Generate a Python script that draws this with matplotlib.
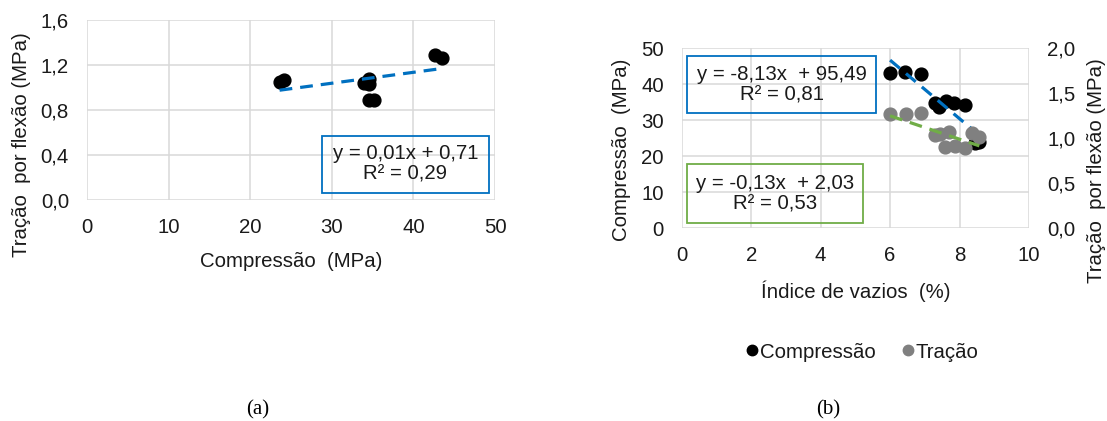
import matplotlib
matplotlib.use("Agg")
import matplotlib.pyplot as plt
from matplotlib.patches import Rectangle
from matplotlib.lines import Line2D
import numpy as np

plt.rcParams['font.family'] = ['Liberation Sans', 'DejaVu Sans']

# (a) tracao x compressao
comp_a = [23.6, 24.2, 33.9, 34.6, 34.6, 34.5, 35.2, 42.7, 43.5]
trac_a = [1.047, 1.065, 1.042, 1.078, 1.027, 0.892, 0.886, 1.287, 1.26]
trend_a = (0.0097, 0.747)
label_a = "y = 0,01x + 0,71\nR² = 0,29"

# (b) indice de vazios
vaz_comp = [6.0, 6.43, 6.90, 7.29, 7.40, 7.61, 7.83, 8.15, 8.45, 8.57]
comp_b = [43.1, 43.5, 42.8, 34.9, 33.8, 35.4, 34.9, 34.3, 23.6, 24.1]
vaz_trac = [6.0, 6.45, 6.90, 7.29, 7.45, 7.58, 7.71, 7.86, 8.15, 8.36, 8.57]
trac_b = [1.27, 1.27, 1.28, 1.04, 1.05, 0.90, 1.07, 0.91, 0.89, 1.06, 1.01]
trend_comp = (-8.13, 95.49)
trend_trac = (-0.13, 2.03)
label_comp = "y = -8,13x  + 95,49\nR² = 0,81"
label_trac = "y = -0,13x  + 2,03\nR² = 0,53"

W, H = 1107, 421
FS = 14.7
GRID = '#D9D9D9'
BLUE = '#0070C0'
GREEN = '#70AD47'
GRAY = '#808080'
TXT = '#1a1a1a'


def fx(px):
    return px / W


def fy(py):
    return (H - py) / H


def comma(fmt):
    return lambda v, pos=None: fmt.format(v).replace('.', ',')


def style_ax(ax):
    for s in ax.spines.values():
        s.set_visible(False)
    ax.grid(True, color=GRID, lw=1.1)
    ax.set_axisbelow(True)
    ax.tick_params(length=0, pad=13, labelsize=FS, colors=TXT)


def add_box(fig, x0, y0, x1, y1, color, text):
    r = Rectangle((fx(x0), fy(y1)), fx(x1 - x0), (y1 - y0) / H,
                  transform=fig.transFigure, fill=False, edgecolor=color,
                  lw=1.3, zorder=5)
    fig.add_artist(r)
    fig.text(fx((x0 + x1) / 2), fy((y0 + y1) / 2), text, ha='center',
             va='center', fontsize=FS, linespacing=1.1, color=TXT)


def vlabel(fig, x, y, text):
    fig.text(fx(x), fy(y), text, rotation=90, ha='center', va='center',
             fontsize=FS, color=TXT)


fig = plt.figure(figsize=(W / 100, H / 100), dpi=100)

# ---- chart (a)
ax1 = fig.add_axes([fx(87), fy(200), fx(495 - 87), 180 / H])
style_ax(ax1)
ax1.scatter(comp_a, trac_a, s=85, color='black', zorder=3)
xa = np.array([min(comp_a), max(comp_a)])
ax1.plot(xa, trend_a[0] * xa + trend_a[1], color=BLUE, lw=2.3,
         dashes=(4, 2.5), zorder=4)
ax1.set_xlim(0, 50)
ax1.set_ylim(0, 1.6)
ax1.set_xticks(np.arange(0, 51, 10))
ax1.set_yticks(np.arange(0, 1.61, 0.4))
ax1.yaxis.set_major_formatter(comma('{:.1f}'))
ax1.set_xlabel('Compressão  (MPa)', fontsize=FS, labelpad=11, color=TXT)
vlabel(fig, 21.5, 145, 'Tração  por flexão (MPa)')
add_box(fig, 321.7, 135.7, 489, 192.7, BLUE, label_a)

# ---- chart (b)
ax2 = fig.add_axes([fx(681.7), fy(228.3), fx(1029 - 681.7), 180 / H])
style_ax(ax2)
ax3 = ax2.twinx()
for s in ax3.spines.values():
    s.set_visible(False)
ax3.tick_params(length=0, pad=13, labelsize=FS, colors=TXT)

ax2.scatter(vaz_comp, comp_b, s=85, color='black', zorder=3)
ax3.scatter(vaz_trac, trac_b, s=85, color=GRAY, zorder=3)
xb = np.array([min(vaz_comp), max(vaz_comp)])
ax2.plot(xb, trend_comp[0] * xb + trend_comp[1], color=BLUE, lw=2.3,
         dashes=(4, 2.5), zorder=4)
xt = np.array([min(vaz_trac), max(vaz_trac)])
ax3.plot(xt, trend_trac[0] * xt + trend_trac[1], color=GREEN, lw=2.3,
         dashes=(4, 2.5), zorder=4)

ax2.set_xlim(0, 10)
ax2.set_ylim(0, 50)
ax3.set_ylim(0, 2.0)
ax2.set_xticks(np.arange(0, 11, 2))
ax2.set_yticks(np.arange(0, 51, 10))
ax3.set_yticks(np.arange(0, 2.01, 0.5))
ax3.yaxis.set_major_formatter(comma('{:.1f}'))
ax2.set_xlabel('Índice de vazios  (%)', fontsize=FS, labelpad=11, color=TXT)
vlabel(fig, 621, 150, 'Compressão  (MPa)')
vlabel(fig, 1097, 171, 'Tração  por flexão (MPa)')
add_box(fig, 687.3, 56, 875.7, 113.3, BLUE, label_comp)
add_box(fig, 687.3, 164, 863.3, 222.7, GREEN, label_trac)

handles = [
    Line2D([], [], ls='none', marker='o', ms=7.5, color='black'),
    Line2D([], [], ls='none', marker='o', ms=7.5, color=GRAY),
]
fig.legend(handles, ['Compressão', 'Tração'], loc='center',
           bbox_to_anchor=(fx(863), fy(352)), ncol=2, frameon=False,
           fontsize=FS, handlelength=0.5, handletextpad=0.15,
           columnspacing=1.3, labelcolor=TXT)

fig.text(fx(258), fy(410), '(a)', ha='center', va='center', fontsize=15,
         family='Liberation Serif')
fig.text(fx(828), fy(410), '(b)', ha='center', va='center', fontsize=15,
         family='Liberation Serif')

fig.savefig('out.png', dpi=100)
